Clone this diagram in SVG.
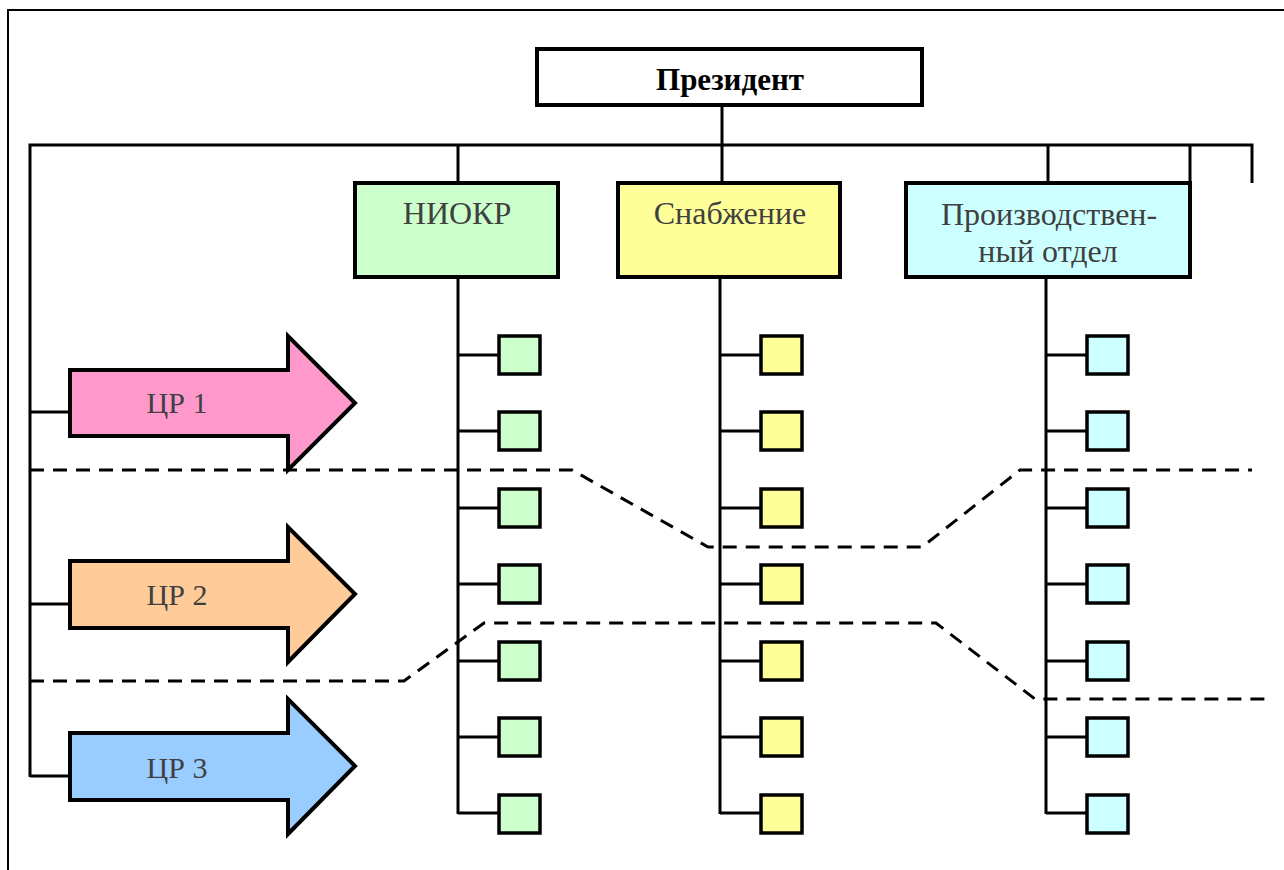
<svg xmlns="http://www.w3.org/2000/svg" width="1284" height="870" viewBox="0 0 1284 870">
<style>
.ln{stroke:#000;stroke-width:3;fill:none}
.dash{stroke:#000;stroke-width:3;fill:none;stroke-dasharray:14 9}
.box{stroke:#000;stroke-width:4}
.sq{stroke:#000;stroke-width:3.5}
.lbl{font-size:32px;fill:#404040;text-anchor:middle}
.cr{font-size:30px}
.g{fill:#CCFFCC}.y{fill:#FFFF99}.c{fill:#CCFFFF}
</style>
<rect x="0" y="0" width="1284" height="870" fill="#fff"/>
<path d="M8,880 V10 H1290" stroke="#000" stroke-width="2" fill="none"/>
<g id="connectors">
<path class="ln" d="M30,777 V145 H1252 V183"/>
<path class="ln" d="M722,105 V182 M458,145 V182 M1048,145 V182 M1190,145 V182"/>
<path class="ln" d="M458,277 V814 M720,277 V814 M1046,277 V814"/>
<path class="ln" d="M30,412 H70 M30,604 H70 M30,776 H70"/>
<path class="ln" d="M458,355H499M458,431H499M458,508H499M458,584H499M458,661H499M458,737H499M458,813H499"/>
<path class="ln" d="M720,355H761M720,431H761M720,508H761M720,584H761M720,661H761M720,737H761M720,813H761"/>
<path class="ln" d="M1046,355H1087M1046,431H1087M1046,508H1087M1046,584H1087M1046,661H1087M1046,737H1087M1046,813H1087"/>
</g>
<g id="boundaries">
<path class="dash" d="M30,470 H572 L708,547 H922 L1020,470 H1252"/>
<path class="dash" d="M30,681 H404 L484,623 H936 L1035,699 H1268"/>
</g>
<g font-family="Liberation Serif, Times New Roman, serif">
<g id="president">
<rect class="box" x="537" y="49" width="385" height="56" fill="#fff"/>
<text x="730" y="90" font-size="31" font-weight="bold" text-anchor="middle" fill="#000">Президент</text>
</g>
<g id="niokr">
<rect class="box g" x="355" y="183" width="203" height="94"/>
<text class="lbl" x="457" y="224">НИОКР</text>
</g>
<g id="supply">
<rect class="box y" x="618" y="183" width="222" height="94"/>
<text class="lbl" x="730" y="224">Снабжение</text>
</g>
<g id="production">
<rect class="box c" x="906" y="183" width="284" height="94"/>
<text class="lbl" x="1049" y="225">Производствен-</text>
<text class="lbl" x="1048" y="262">ный отдел</text>
</g>
<g id="cr1">
<path class="box" fill="#FF99CC" stroke-width="3.5" d="M70,370 H288 V336 L355,403 L288,470 V436 H70 Z"/>
<text class="lbl cr" x="177" y="413">ЦР 1</text>
</g>
<g id="cr2">
<path class="box" fill="#FFCC99" stroke-width="3.5" d="M70,561 H288 V527 L355,594 L288,662 V628 H70 Z"/>
<text class="lbl cr" x="177" y="605">ЦР 2</text>
</g>
<g id="cr3">
<path class="box" fill="#99CCFF" stroke-width="3.5" d="M70,733 H288 V699 L355,766 L288,834 V800 H70 Z"/>
<text class="lbl cr" x="177" y="778">ЦР 3</text>
</g>
</g>
<g id="niokr-units">
<rect class="sq g" x="499" y="336" width="41" height="38"/>
<rect class="sq g" x="499" y="412" width="41" height="38"/>
<rect class="sq g" x="499" y="489" width="41" height="38"/>
<rect class="sq g" x="499" y="565" width="41" height="38"/>
<rect class="sq g" x="499" y="642" width="41" height="38"/>
<rect class="sq g" x="499" y="718" width="41" height="38"/>
<rect class="sq g" x="499" y="795" width="41" height="38"/>
</g>
<g id="supply-units">
<rect class="sq y" x="761" y="336" width="41" height="38"/>
<rect class="sq y" x="761" y="412" width="41" height="38"/>
<rect class="sq y" x="761" y="489" width="41" height="38"/>
<rect class="sq y" x="761" y="565" width="41" height="38"/>
<rect class="sq y" x="761" y="642" width="41" height="38"/>
<rect class="sq y" x="761" y="718" width="41" height="38"/>
<rect class="sq y" x="761" y="795" width="41" height="38"/>
</g>
<g id="production-units">
<rect class="sq c" x="1087" y="336" width="41" height="38"/>
<rect class="sq c" x="1087" y="412" width="41" height="38"/>
<rect class="sq c" x="1087" y="489" width="41" height="38"/>
<rect class="sq c" x="1087" y="565" width="41" height="38"/>
<rect class="sq c" x="1087" y="642" width="41" height="38"/>
<rect class="sq c" x="1087" y="718" width="41" height="38"/>
<rect class="sq c" x="1087" y="795" width="41" height="38"/>
</g>
</svg>
